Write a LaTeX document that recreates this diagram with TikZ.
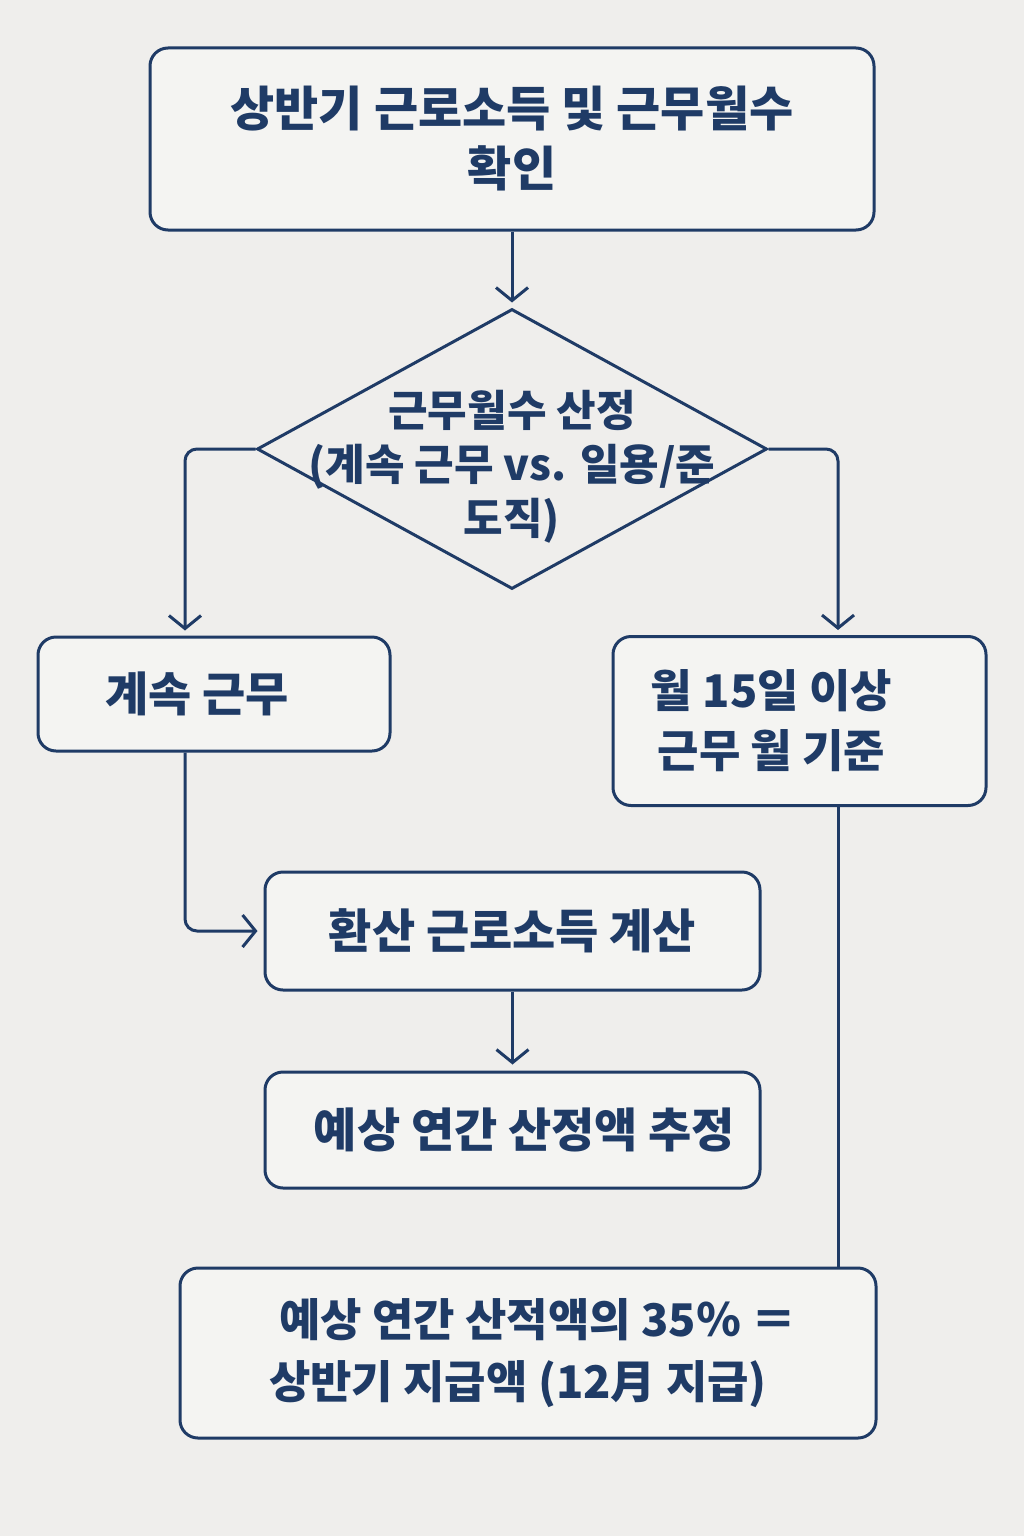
\documentclass[tikz,border=0pt]{standalone}
\usepackage{fontspec}
\setmainfont{Noto Sans CJK KR}
\usetikzlibrary{arrows.meta,calc,shapes.geometric}
\definecolor{navy}{HTML}{1F3B66}
\definecolor{bgc}{HTML}{EFEEEC}
\definecolor{boxbg}{HTML}{F4F4F2}
\begin{document}
\begin{tikzpicture}[x=1pt,y=-1pt,
  box/.style={draw=navy, line width=3pt, rounded corners=18pt, fill=boxbg, align=center, inner sep=0pt, text=navy, font=\fontsize{47}{60}\selectfont\bfseries},
  conn/.style={draw=navy, line width=3pt},
  tip/.style={-{Straight Barb[length=13pt,width=32pt,line width=3pt]}}
]
\fill[bgc] (0,0) rectangle (1024,1536);
\node[box, minimum width=724pt, minimum height=182pt, font=\fontsize{48}{60}\selectfont\bfseries] (top) at (512,139) {상반기 근로소득 및 근무월수\\확인};
\node[draw=navy, line width=3pt, diamond, minimum width=510pt, minimum height=280pt, inner sep=0pt] (dec) at (512,449) {};
\node[text=navy, align=center, font=\fontsize{43}{54}\selectfont\bfseries] (dect) at (512,467) {근무월수 산정\\(계속 근무 vs. 일용/준\\도직)};
\node[box, minimum width=352pt, minimum height=114pt] (cont) at (214,694) {계속 근무\hspace*{34pt}};
\node[box, minimum width=373pt, minimum height=169pt, font=\fontsize{45}{60}\selectfont\bfseries] (mon) at (799.5,721) {월 15일 이상\hspace*{56pt}\\근무 월 기준\hspace*{56pt}};
\node[box, minimum width=495pt, minimum height=118pt] (calc) at (512.5,931) {환산 근로소득 계산};
\node[box, minimum width=495pt, minimum height=116pt] (est) at (512.5,1130) {\hspace*{24pt}예상 연간 산정액 추정};
\node[box, minimum width=696pt, minimum height=170pt, font=\fontsize{45}{62}\selectfont\bfseries] (final) at (528,1353) {\hspace*{20pt}예상 연간 산적액의 35％ ＝\\상반기 지급액 (12月 지급)\hspace*{20pt}};
\coordinate (lt) at ($(cont.north)+(-29,0)$);
\coordinate (lb) at ($(cont.south)+(-29,0)$);
\coordinate (rt) at ($(mon.north)+(38.5,0)$);
\coordinate (rb) at ($(mon.south)+(38.5,0)$);
\draw[conn, tip, shorten >=5pt] (top) -- (dec);
\draw[conn, tip, rounded corners=12pt, shorten >=5pt] (dec.west) -| (lt);
\draw[conn, tip, rounded corners=12pt, shorten >=5pt] (dec.east) -| (rt);
\draw[conn, tip, rounded corners=12pt, shorten >=6pt] (lb) |- (calc.west);
\draw[conn, tip, shorten >=6pt] (calc) -- (est);
\draw[conn] (rb) -- (rb |- final.north);
\end{tikzpicture}
\end{document}
